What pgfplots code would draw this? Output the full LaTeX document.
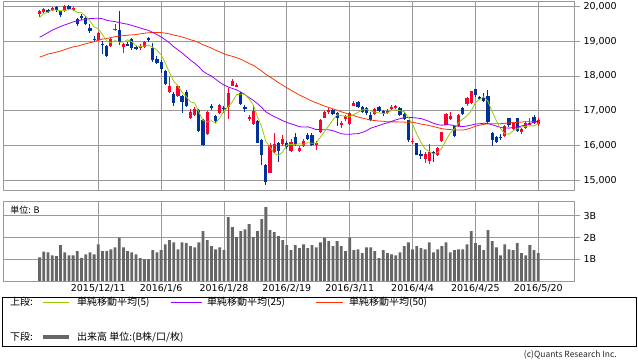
\documentclass[border=0pt]{standalone}
\usepackage{fontspec}
\setmainfont{DejaVu Sans}
\newfontfamily\jp{Noto Sans CJK JP}
\usepackage{pgfplots}
\pgfplotsset{compat=1.18}
\usepackage{pgfplotstable}
\definecolor{cred}{RGB}{255,0,51}
\definecolor{cblue}{RGB}{0,51,153}
\definecolor{maA}{RGB}{153,204,0}
\definecolor{maB}{RGB}{153,0,255}
\definecolor{maC}{RGB}{255,51,0}
\definecolor{volc}{RGB}{102,102,102}
\definecolor{gridc}{RGB}{153,153,153}

\pgfplotstableread{
i o h l c
0 19780 19900 19700 19880
1 19850 19960 19800 19925
3 19900 19980 19870 19944
6 19880 20030 19850 20012
8 19890 19990 19860 19940
14 19020 19260 19000 19230
17 18850 19080 18820 19050
18 19330 19480 19290 19354
20 18820 18960 18660 18916
24 18800 18910 18760 18873
25 18830 19000 18800 18982
31 17530 17980 17510 17698
33 17420 17730 17400 17716
36 16800 17050 16750 16956
37 16890 17100 16860 17048
40 16320 16990 16290 16958
43 16940 17200 16900 17164
45 17110 17640 16750 17518
46 17720 17920 17700 17865
47 17700 17800 17680 17751
50 16790 16870 16700 16820
51 16620 17130 16600 17004
55 15220 16060 15200 16023
56 15800 16370 15780 16054
58 16050 16300 16000 16197
60 15850 16180 15800 16111
62 15840 15990 15800 15916
63 15990 16180 15950 16140
66 16010 16130 15860 16086
67 16390 16770 16370 16747
68 16800 16990 16780 16960
69 16950 17080 16900 17015
72 16600 16700 16500 16642
73 16750 16880 16700 16852
74 16610 16960 16590 16939
75 17150 17290 17130 17234
80 16900 17080 16880 17049
83 16930 17050 16900 17003
84 17040 17170 17010 17102
85 17080 17160 17050 17134
89 16110 16230 16040 16123
92 15600 15810 15500 15750
93 15560 16030 15456 15822
95 15720 15960 15700 15929
96 16130 16400 16100 16381
97 16600 16930 16580 16911
98 16760 16960 16730 16848
100 16560 16900 16520 16874
102 17180 17400 17150 17364
103 17230 17580 17200 17572
111 16270 16600 16250 16565
113 16470 16690 16440 16646
115 16400 16500 16340 16466
116 16500 16680 16480 16653
117 16600 16800 16580 16645
119 16630 16790 16560 16736
}\up

\pgfplotstableread{
i o h l c
2 19890 19930 19800 19848
4 19990 20010 19850 19884
5 19860 19880 19700 19747
7 20000 20050 19900 19938
9 19630 19680 19450 19504
10 19720 19770 19620 19698
11 19660 19710 19460 19493
12 19380 19480 19230 19301
13 19070 19160 18990 19047
15 18930 19000 18620 18883
16 18870 18900 18540 18566
19 19330 19869 18880 18987
21 18920 18990 18850 18887
22 19050 19100 18760 18790
23 18840 18870 18740 18769
26 19080 19110 18990 19034
27 18818 18950 18394 18451
28 18500 18560 18330 18374
29 18410 18460 18080 18191
30 18150 18170 17740 17767
32 17480 17550 17150 17219
34 17410 17460 16940 17241
35 17530 17600 17100 17147
38 17030 17050 16400 16416
39 16740 16760 16000 16017
41 17130 17190 17020 17111
42 16840 16870 16660 16709
44 17090 17140 16940 17041
48 17510 17540 17170 17191
49 17100 17160 16970 17045
52 16700 16720 16060 16085
53 16170 16200 15440 15713
54 15450 15470 14865 14953
57 16060 16100 15520 15836
59 16060 16140 15900 15967
61 16250 16360 16000 16052
64 16310 16360 16150 16188
65 16290 16360 16000 16027
70 17030 17050 16880 16911
71 16940 16960 16560 16783
76 17260 17290 17080 17117
77 17100 17140 16940 16974
78 17080 17100 16880 16936
79 16890 16950 16700 16725
81 17120 17150 16970 17001
82 16990 17020 16860 16892
86 17090 17100 16860 16879
87 16900 16960 16740 16759
88 16720 16730 16110 16164
90 16060 16070 15720 15733
91 15760 15860 15600 15715
94 15800 15850 15520 15751
99 16550 16560 16250 16276
101 17080 17100 16880 16907
104 17620 17630 17400 17439
105 17390 17420 17300 17353
106 17400 17520 17250 17290
107 17410 17600 16640 16666
108 16360 16400 15990 16147
109 16240 16280 16080 16107
110 16250 16330 16150 16216
112 16790 16800 16540 16579
114 16790 16800 16380 16412
118 16820 16870 16620 16647
}\down

\pgfplotstableread{
i m5 m25 m50
0 19686.3 19112.6 18542.1
1 19792.5 19177.9 18583.4
2 19832.2 19246.6 18631.8
3 19891.3 19316.1 18655.3
4 19896.1 19369.3 18687.0
5 19869.7 19421.7 18716.6
6 19887.2 19469.2 18757.6
7 19905.3 19508.9 18799.4
8 19904.4 19555.4 18834.8
9 19828.5 19579.4 18856.2
10 19818.6 19609.9 18888.8
11 19714.7 19626.3 18927.2
12 19587.2 19651.0 18955.6
13 19408.6 19655.8 18983.6
14 19353.8 19660.4 19029.6
15 19190.8 19645.1 19059.5
16 19005.5 19602.0 19076.4
17 18955.3 19577.1 19102.9
18 19016.7 19563.4 19129.8
19 18967.9 19535.2 19145.9
20 18974.4 19508.0 19157.7
21 19038.6 19487.7 19172.6
22 18986.6 19453.3 19179.6
23 18869.7 19418.1 19190.3
24 18847.0 19378.7 19210.0
25 18860.2 19342.8 19227.7
26 18889.6 19307.1 19242.5
27 18821.9 19251.2 19248.9
28 18742.9 19188.4 19252.3
29 18606.5 19120.7 19245.0
30 18363.5 19041.5 19231.6
31 18096.3 18948.9 19209.1
32 17849.9 18840.2 19174.5
33 17718.2 18751.2 19153.3
34 17528.2 18660.7 19120.0
35 17404.1 18558.6 19084.3
36 17255.6 18457.1 19041.7
37 17221.5 18367.0 19009.0
38 16961.6 18261.8 18958.8
39 16716.9 18133.3 18896.8
40 16679.2 18056.3 18850.7
41 16710.3 17998.1 18800.0
42 16642.4 17904.4 18740.8
43 16791.9 17816.9 18690.1
44 16996.7 17739.0 18637.1
45 17108.7 17683.1 18595.6
46 17259.6 17642.3 18565.0
47 17467.9 17600.7 18527.0
48 17473.4 17537.6 18477.9
49 17474.1 17464.5 18421.6
50 17334.4 17378.0 18360.4
51 17162.2 17296.8 18301.9
52 16829.1 17202.2 18226.7
53 16533.5 17095.7 18142.1
54 16115.1 16966.2 18043.5
55 15955.7 16896.4 17969.0
56 15765.7 16830.7 17889.8
57 15715.9 16775.4 17807.8
58 15812.6 16714.6 17732.9
59 16015.5 16663.7 17662.2
60 16033.2 16622.2 17590.4
61 16032.7 16586.1 17521.6
62 16048.6 16540.8 17453.9
63 16037.3 16529.7 17395.8
64 16081.5 16536.6 17334.9
65 16064.7 16499.3 17277.8
66 16071.4 16458.3 17228.2
67 16237.5 16459.8 17182.1
68 16401.5 16451.7 17134.3
69 16566.8 16450.6 17094.8
70 16743.7 16426.3 17054.7
71 16883.2 16383.0 17012.7
72 16862.3 16338.7 16969.7
73 16840.8 16325.1 16931.4
74 16825.6 16320.9 16892.7
75 16890.1 16337.4 16857.7
76 16956.9 16342.0 16819.4
77 17023.3 16377.5 16789.8
78 17040.1 16426.4 16761.1
79 16997.3 16497.3 16731.8
80 16960.3 16538.4 16717.4
81 16937.0 16576.2 16703.4
82 16920.6 16618.5 16696.9
83 16933.9 16650.7 16682.7
84 17009.4 16696.1 16679.9
85 17026.6 16737.0 16679.6
86 17002.2 16770.1 16678.1
87 16975.4 16803.8 16672.3
88 16807.7 16804.8 16667.3
89 16611.9 16802.2 16669.4
90 16331.6 16790.4 16644.9
91 16098.9 16775.6 16617.0
92 15897.1 16735.8 16597.8
93 15828.6 16690.2 16570.9
94 15754.1 16639.7 16545.1
95 15793.3 16600.4 16513.3
96 15926.5 16584.3 16483.7
97 16158.7 16595.0 16466.9
98 16364.0 16594.9 16460.0
99 16469.0 16568.3 16444.6
100 16658.1 16554.0 16445.7
101 16763.2 16545.6 16443.8
102 16853.7 16561.1 16469.3
103 16998.6 16586.6 16506.5
104 17231.3 16615.1 16556.2
105 17327.1 16627.3 16582.9
106 17403.8 16638.9 16607.6
107 17264.3 16629.9 16624.2
108 16979.3 16595.6 16623.2
109 16712.8 16555.8 16626.0
110 16485.3 16519.1 16628.1
111 16340.3 16506.5 16638.3
112 16322.9 16499.4 16651.6
113 16422.7 16518.6 16661.7
114 16483.8 16530.2 16666.2
115 16533.8 16559.5 16675.0
116 16551.4 16597.0 16686.3
117 16564.5 16632.8 16684.3
118 16564.6 16665.8 16678.0
119 16629.4 16705.2 16672.5
}\ma

\pgfplotstableread{
i v
0 1.09
1 1.35
2 1.32
3 1.18
4 1.14
5 1.65
6 1.32
7 1.18
8 1.18
9 1.37
10 1.06
11 1.23
12 1.32
13 1.23
14 1.69
15 1.37
16 1.37
17 1.46
18 1.55
19 2.00
20 1.55
21 1.37
22 1.32
23 1.23
24 1.05
25 1.00
26 1.00
27 1.42
28 1.32
29 1.42
30 1.69
31 1.88
32 1.78
33 1.46
34 1.78
35 1.74
36 1.60
37 1.55
38 1.78
39 2.29
40 1.88
41 1.60
42 1.46
43 1.55
44 1.42
45 2.94
46 2.48
47 2.02
48 2.29
49 2.38
50 2.62
51 2.02
52 2.29
53 2.85
54 3.40
55 2.34
56 2.25
57 2.06
58 1.88
59 1.65
60 1.42
61 1.65
62 1.51
63 1.69
64 1.51
65 1.65
66 1.55
67 1.78
68 2.00
69 1.83
70 1.60
71 1.83
72 1.60
73 1.37
74 2.00
75 1.42
76 1.46
77 1.28
78 1.55
79 1.55
80 1.37
81 1.05
82 1.42
83 1.28
84 1.23
85 1.18
86 1.32
87 1.60
88 1.78
89 1.46
90 1.60
91 1.51
92 1.46
93 1.78
94 1.32
95 1.46
96 1.60
97 1.78
98 1.32
99 1.42
100 1.46
101 1.46
102 1.69
103 2.29
104 1.74
105 1.65
106 1.42
107 2.34
108 1.83
109 1.55
110 1.18
111 1.69
112 1.46
113 1.42
114 1.74
115 1.28
116 1.18
117 1.65
118 1.42
119 1.28
}\vol

\pgfplotsset{
  panel/.style={
    scale only axis, width=570.7pt,
    xmin=-8.67, xmax=127.53,
    xtick={14,29,44,59,74,89,104,119},
    ytick pos=right, yticklabel pos=right,
    tick align=outside, major tick length=6pt,
    xtick style={draw=none},
    ytick style={draw=gridc, line width=0.8pt},
    grid=major, grid style={gridc, line width=0.8pt},
    axis line style={gridc, line width=0.8pt},
    every tick label/.append style={font=\fontsize{9.5}{11}\selectfont, text=black},
  },
  wick/.style={draw=none, mark=none, forget plot,
    error bars/.cd, y dir=both, y explicit, error mark=none,
    error bar style={draw=#1, line width=1pt}},
  body/.style={draw=none, mark=none, forget plot,
    error bars/.cd, y dir=both, y explicit, error mark=none,
    error bar style={draw=#1, line width=3.2pt}},
}

\begin{document}
\begin{tikzpicture}[x=1pt,y=1pt]
\path[use as bounding box] (0,0) rectangle (638,362);

\begin{axis}[panel,
  at={(3.3pt,172pt)}, anchor=south west, height=189pt,
  ymin=14721, ymax=20155,
  xticklabels={},
  ytick={15000,16000,17000,18000,19000,20000},
  yticklabels={{15,000},{16,000},{17,000},{18,000},{19,000},{20,000}},
]
\addplot[wick=cred] table[x=i, y expr={(\thisrow{h}+\thisrow{l})/2}, y error expr={(\thisrow{h}-\thisrow{l})/2}]{\up};
\addplot[wick=cblue] table[x=i, y expr={(\thisrow{h}+\thisrow{l})/2}, y error expr={(\thisrow{h}-\thisrow{l})/2}]{\down};
\addplot[body=cred] table[x=i, y expr={(\thisrow{o}+\thisrow{c})/2}, y error expr={max(abs(\thisrow{c}-\thisrow{o})/2,14)}]{\up};
\addplot[body=cblue] table[x=i, y expr={(\thisrow{o}+\thisrow{c})/2}, y error expr={max(abs(\thisrow{c}-\thisrow{o})/2,14)}]{\down};
\addplot[maC, line width=0.8pt, mark=none] table[x=i, y=m50]{\ma};
\addplot[maB, line width=0.8pt, mark=none] table[x=i, y=m25]{\ma};
\addplot[maA, line width=0.8pt, mark=none] table[x=i, y=m5]{\ma};
\end{axis}

\begin{axis}[panel,
  at={(3.3pt,81pt)}, anchor=south west, height=80pt,
  ymin=0, ymax=3.68,
  xticklabels={2015/12/11,2016/1/6,2016/1/28,2016/2/19,2016/3/11,2016/4/4,2016/4/25,2016/5/20},
  xticklabel style={yshift=6pt},
  ytick={1,2,3}, yticklabels={1B,2B,3B},
]
\addplot[ybar, bar width=2.8pt, fill=volc, draw=none] table[x=i, y=v]{\vol};
\node[anchor=west, font=\jp\fontsize{9}{10}\selectfont, inner sep=0pt] at (rel axis cs:0.012,0.885) {単位: B};
\end{axis}

\draw[black, line width=0.8pt] (2.7,16) rectangle (636,65);
\begin{scope}[every node/.style={anchor=west, inner sep=0pt, font=\jp\fontsize{10}{12}\selectfont}]
\node at (10,60) {上段:};
\draw[maA, line width=0.9pt] (43,60) -- (69,60);
\node at (77,60) {単純移動平均(5)};
\draw[maB, line width=0.9pt] (171,60) -- (202,60);
\node at (207,60) {単純移動平均(25)};
\draw[maC, line width=0.9pt] (316,60) -- (343,60);
\node at (349,60) {単純移動平均(50)};
\node at (10,25) {下段:};
\draw[volc, line width=4pt] (43,25) -- (69,25);
\node at (77,25) {出来高 単位:(B株/口/枚)};
\end{scope}
\node[anchor=east, inner sep=0pt, font=\jp\fontsize{8.5}{10}\selectfont, text=black!85] at (617,7) {(c)Quants Research Inc.};
\end{tikzpicture}
\end{document}
